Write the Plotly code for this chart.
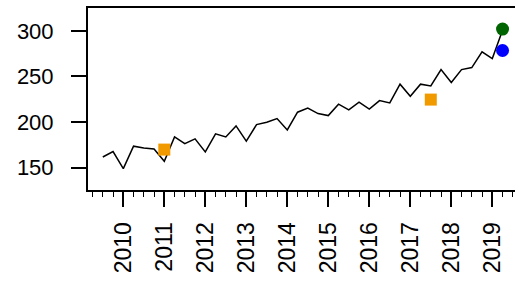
import plotly.graph_objects as go

# quarterly series (decimal year)
years = [2009.5 + 0.25 * i for i in range(40)]
values = [161.7, 167.6, 148.9, 173.5, 171.6, 170.5, 157.0, 183.7, 176.3, 181.5,
          167.2, 187.0, 183.7, 195.8, 179.0, 197.2, 199.8, 203.8, 191.4, 210.8,
          215.2, 209.3, 207.1, 219.6, 213.3, 221.8, 214.1, 223.5, 221.0, 241.5,
          228.3, 241.5, 239.6, 257.5, 243.3, 257.5, 259.7, 277.0, 269.6, 300.5]

orange_x = [2011.0, 2017.5]
orange_y = [169.8, 224.6]
blue_x = [2019.25]
blue_y = [278.4]
green_x = [2019.25]
green_y = [301.9]

tick_years = list(range(2010, 2020))
tick_labels = [str(y) for y in tick_years]
y_ticks = [150, 200, 250, 300]

fig = go.Figure()
fig.add_trace(go.Scatter(x=years, y=values, mode="lines",
                         line=dict(color="black", width=1.5), showlegend=False))
fig.add_trace(go.Scatter(x=orange_x, y=orange_y, mode="markers",
                         marker=dict(symbol="square", size=12, color="#F09A00", line=dict(width=0)),
                         showlegend=False))
fig.add_trace(go.Scatter(x=blue_x, y=blue_y, mode="markers",
                         marker=dict(symbol="circle", size=13, color="#0000FF", line=dict(width=0)),
                         showlegend=False))
fig.add_trace(go.Scatter(x=green_x, y=green_y, mode="markers",
                         marker=dict(symbol="circle", size=13, color="#006400", line=dict(width=0)),
                         showlegend=False))

fig.update_layout(
    width=515, height=285,
    margin=dict(l=88, r=0, t=8, b=95),
    paper_bgcolor="white", plot_bgcolor="white",
    font=dict(family="Liberation Sans, Arial, sans-serif", size=22, color="black"),
    xaxis=dict(range=[2009.139, 2019.554], tickmode="array", tickvals=tick_years,
               ticktext=tick_labels, tickangle=-90, ticks="outside", ticklen=15,
               tickwidth=1.5, tickcolor="black", showline=True, linecolor="black",
               linewidth=2, mirror=True, showgrid=False, zeroline=False,
               ticklabelstandoff=6, tickfont=dict(size=23),
               minor=dict(tick0=2009, dtick=0.25, ticks="outside", ticklen=5,
                          tickwidth=1.2, tickcolor="black", showgrid=False)),
    yaxis=dict(range=[125.5, 325], tickmode="array", tickvals=y_ticks,
               ticks="outside", ticklen=15, tickwidth=1.5, tickcolor="black",
               showline=True, linecolor="black", linewidth=2, mirror=False,
               showgrid=False, zeroline=False, ticklabelstandoff=13),
)

fig.write_html("out.html", config={"displayModeBar": False},
               post_script="document.body.style.margin='0';")
